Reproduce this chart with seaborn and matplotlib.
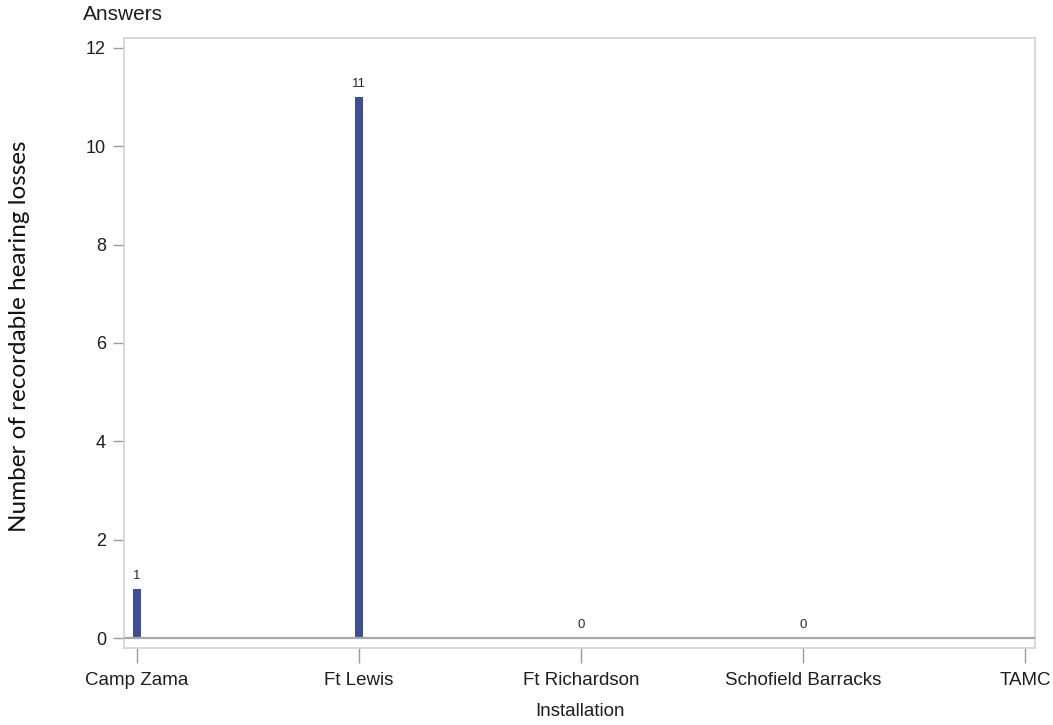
import numpy as np
import pandas as pd
import matplotlib
matplotlib.use("Agg")
import matplotlib.pyplot as plt
import seaborn as sns

categories = ["Camp Zama", "Ft Lewis", "Ft Richardson", "Schofield Barracks", "TAMC"]
values = [1, 11, 0, 0, np.nan]
yticks = [0, 2, 4, 6, 8, 10, 12]

sns.set_theme(style="white")
plt.rcParams['font.family'] = ['Liberation Sans', 'DejaVu Sans']

df = pd.DataFrame({"Installation": categories, "Count": values})

fig = plt.figure(figsize=(10.53, 7.25), dpi=100)
ax = fig.add_axes([124/1053, 1-648/725, (1035-124)/1053, (648-38)/725])

bar_color = "#3F4F95"
sns.barplot(data=df, x="Installation", y="Count", order=categories,
            color=bar_color, width=0.032, errorbar=None, ax=ax,
            saturation=1, linewidth=0)

ax.axhline(0, color="#A8A8A8", lw=1.6, zorder=3)

for c in ax.containers:
    labs = ["" if np.isnan(v) else f"{v:.0f}" for v in c.datavalues]
    ax.bar_label(c, labels=labs, padding=5, fontsize=9.5, color="#2A2A2A")

ax.set_xlim(-13/222, 4 + 10/222)
ax.set_ylim(-0.203, 12.203)
ax.set_yticks(yticks)
ax.set_yticklabels([str(t) for t in yticks])

for s in ax.spines.values():
    s.set_color("#D2D2D2")
    s.set_linewidth(1.2)

ax.tick_params(axis="y", length=8, width=1, color="#9A9A9A", labelsize=13,
               labelcolor="#1E1E1E", pad=5, left=True)
ax.tick_params(axis="x", length=11, width=1, color="#9A9A9A", labelsize=13.5,
               labelcolor="#1E1E1E", pad=6, bottom=True)

ax.set_xlabel("")
ax.set_ylabel("")
fig.text(580/1053, 1-712/725, "Installation", ha="center", va="center",
         fontsize=13.5, color="#1E1E1E")
fig.text(83/1053, 1-14/725, "Answers", ha="left", va="center",
         fontsize=15, color="#1E1E1E")
fig.text(20/1053, 1-336/725, "Number of recordable hearing losses", rotation=90,
         ha="center", va="center", fontsize=17.5, color="#111111",
         family=["Lato", "DejaVu Sans"])

fig.savefig("out.png", dpi=100)
